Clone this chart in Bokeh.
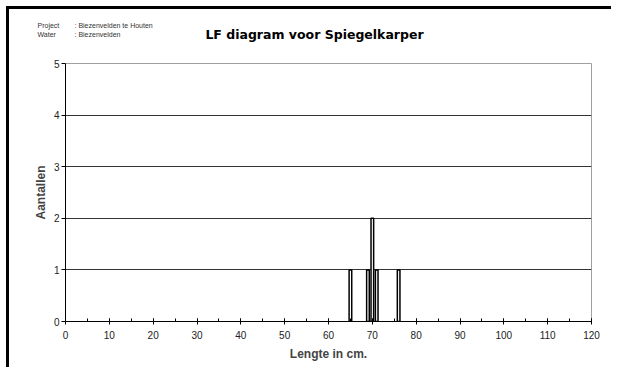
from bokeh.plotting import figure
from bokeh.layouts import column, row
from bokeh.models import FixedTicker, ColumnDataSource, Range1d
from bokeh.core.properties import value
from bokeh.embed import file_html
from bokeh.resources import INLINE

# data
lengths = [65, 69, 70, 71, 76]
counts = [1, 1, 2, 1, 1]
x_ticks = list(range(0, 121, 10))
x_minor_ticks = list(range(0, 121, 5))
y_ticks = [0, 1, 2, 3, 4, 5]
title_text = "LF diagram voor Spiegelkarper"
info_keys = ["Project", "Water"]
info_vals = [": Biezenvelden te Houten", ": Biezenvelden"]

# ---- header (title + info), its frame spans the whole canvas, units = page pixels
header = figure(width=605, height=45, output_backend="svg", toolbar_location=None,
                x_range=Range1d(9, 614), y_range=Range1d(54, 9),
                x_axis_type=None, y_axis_type=None, title=None,
                min_border_left=0, min_border_right=0, min_border_top=0, min_border_bottom=0)
header.outline_line_color = None
header.xgrid.grid_line_color = None
header.ygrid.grid_line_color = None
header.text(x=[314], y=[34], text=[title_text], text_font=value("DejaVu Sans"),
            text_font_style="bold", text_font_size="12.5px", text_color="black",
            text_align="center", text_baseline="middle")
header.text(x=[37, 37], y=[25, 34], text=info_keys, text_font=value("Liberation Sans"),
            text_font_size="7px", text_color="#333333", text_baseline="middle")
header.text(x=[74, 74], y=[25, 34], text=info_vals, text_font=value("Liberation Sans"),
            text_font_size="7px", text_color="#333333", text_baseline="middle")

# ---- main chart
source = ColumnDataSource(dict(x=lengths, y=counts))
p = figure(width=605, height=316, output_backend="svg", toolbar_location=None,
           x_range=Range1d(0, 120), y_range=Range1d(0, 5), title=None,
           min_border_left=56, min_border_right=23, min_border_top=9, min_border_bottom=49)

p.vbar(x='x', top='y', bottom=0, width=0.6, source=source,
       fill_color="white", line_color="black", line_width=1.5)

p.outline_line_color = "#a0a0a0"
p.outline_line_width = 1
p.xgrid.grid_line_color = None
p.ygrid.grid_line_color = "#333333"
p.ygrid.ticker = FixedTicker(ticks=y_ticks)

p.xaxis.ticker = FixedTicker(ticks=x_ticks, minor_ticks=x_minor_ticks)
p.yaxis.ticker = FixedTicker(ticks=y_ticks)
for ax in (p.xaxis, p.yaxis):
    ax.axis_line_color = "black"
    ax.major_tick_line_color = "black"
    ax.minor_tick_line_color = "black"
    ax.major_label_text_font = "Liberation Sans"
    ax.major_label_text_font_size = "10px"
    ax.major_label_text_color = "#222222"
    ax.axis_label_text_font = "Liberation Sans"
    ax.axis_label_text_font_style = "bold"
    ax.axis_label_text_font_size = "12px"
p.xaxis.major_tick_in = 3
p.xaxis.major_tick_out = 3
p.xaxis.minor_tick_in = 3
p.xaxis.minor_tick_out = 0
p.xaxis.major_label_standoff = 6
p.yaxis.major_tick_in = 0
p.yaxis.major_tick_out = 4
p.yaxis.minor_tick_line_color = None
p.yaxis.major_label_standoff = 2
p.xaxis.axis_label = "Lengte in cm."
p.yaxis.axis_label = "Aantallen"
p.xaxis.axis_label_standoff = 5
p.yaxis.axis_label_standoff = 3

layout = column(row(header), p, spacing=0,
                styles={"margin-left": "9px", "margin-top": "9px",
                        "box-shadow": "-3px -3px 0px 0px black"})

open("out.html", "w").write(file_html(layout, INLINE))
